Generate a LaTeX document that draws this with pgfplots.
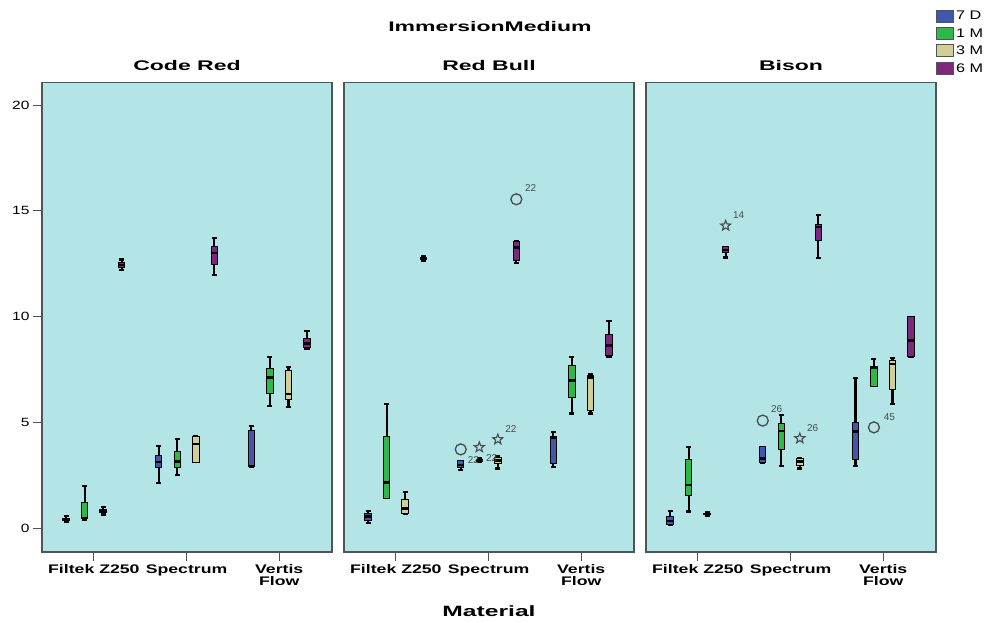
\documentclass[border=0pt]{standalone}
\usepackage{fontspec}
\setmainfont{Liberation Sans}
\newfontfamily\titlefont[FakeStretch=1.65]{Liberation Sans}
\newfontfamily\xlabfont[FakeStretch=1.42]{Liberation Sans}
\newfontfamily\tickfont[FakeStretch=1.3]{Liberation Sans}
\usepackage{pgfplots}
\pgfplotsset{compat=1.18}
\usepgfplotslibrary{statistics}
\definecolor{bgc}{HTML}{B4E5E6}
\definecolor{axc}{HTML}{4D5656}
\definecolor{c7d}{HTML}{3E58AC}
\definecolor{c1m}{HTML}{2EB848}
\definecolor{c3m}{HTML}{D3CE97}
\definecolor{c6m}{HTML}{7C287D}
\definecolor{outc}{HTML}{4A4A4A}
\pgfdeclareplotmark{sstar}{%
 \pgfpathmoveto{\pgfpointpolar{90}{\pgfplotmarksize}}%
 \pgfpathlineto{\pgfpointpolar{126}{0.42*\pgfplotmarksize}}%
 \pgfpathlineto{\pgfpointpolar{162}{\pgfplotmarksize}}%
 \pgfpathlineto{\pgfpointpolar{198}{0.42*\pgfplotmarksize}}%
 \pgfpathlineto{\pgfpointpolar{234}{\pgfplotmarksize}}%
 \pgfpathlineto{\pgfpointpolar{270}{0.42*\pgfplotmarksize}}%
 \pgfpathlineto{\pgfpointpolar{306}{\pgfplotmarksize}}%
 \pgfpathlineto{\pgfpointpolar{342}{0.42*\pgfplotmarksize}}%
 \pgfpathlineto{\pgfpointpolar{18}{\pgfplotmarksize}}%
 \pgfpathlineto{\pgfpointpolar{54}{0.42*\pgfplotmarksize}}%
 \pgfpathclose\pgfusepathqstroke}
\newcommand{\bx}[7]{\addplot[fill=#2, draw=black,
  boxplot prepared={draw position=#1, lower whisker=#3, lower quartile=#4,
  median=#5, upper quartile=#6, upper whisker=#7}] coordinates {};}
\pgfplotsset{panel/.style={
  scale only axis, width=290bp, height=469.3bp,
  xmin=0.44, xmax=3.57, ymin=-1.12, ymax=21.06,
  axis background/.style={fill=bgc},
  axis line style={draw=axc, line width=1.5bp},
  xtick={1,2,3}, xticklabels={Filtek Z250,Spectrum,{Vertis\\Flow}},
  xticklabel style={font=\xlabfont\bfseries\fontsize{12.5}{12}\selectfont, align=center},
  yticklabel style={font=\tickfont\fontsize{12}{12}\selectfont},
  /pgf/number format/assume math mode=true,
  tick align=outside, tick pos=left, major tick length=9bp,
  tick style={draw=axc, line width=1bp},
  boxplot/draw direction=y, boxplot/box extend=0.07, boxplot/whisker extend=0.055,
  boxplot/every box/.style={line width=1bp, draw=black},
  boxplot/every whisker/.style={line width=2.2bp, draw=black},
  boxplot/every median/.style={line width=2.5bp, draw=black},
  clip=false,
}}
\begin{document}
\begin{tikzpicture}
\path[use as bounding box] (0,0) rectangle (985bp,623bp);
% ---------- Code Red
\begin{axis}[panel, at={(42bp,71bp)}, ytick={0,5,10,15,20}]
\bx{0.7}{c7d}{0.32}{0.36}{0.42}{0.48}{0.6}
\bx{0.9}{c1m}{0.42}{0.45}{0.48}{1.22}{2.0}
\bx{1.1}{c3m}{0.65}{0.74}{0.82}{0.9}{1.0}
\bx{1.3}{c6m}{12.2}{12.33}{12.45}{12.58}{12.7}
\bx{1.7}{c7d}{2.13}{2.85}{3.13}{3.42}{3.89}
\bx{1.9}{c1m}{2.52}{2.88}{3.16}{3.65}{4.22}
\bx{2.1}{c3m}{3.13}{3.13}{3.98}{4.36}{4.36}
\bx{2.3}{c6m}{11.99}{12.48}{13.0}{13.31}{13.73}
\bx{2.7}{c7d}{2.91}{2.91}{2.95}{4.61}{4.83}
\bx{2.9}{c1m}{5.78}{6.38}{7.13}{7.54}{8.08}
\bx{3.1}{c3m}{5.75}{6.1}{6.35}{7.48}{7.64}
\bx{3.3}{c6m}{8.46}{8.55}{8.74}{8.98}{9.34}
\end{axis}
% ---------- Red Bull
\begin{axis}[panel, at={(344bp,71bp)}, ytick=\empty]
\bx{0.7}{c7d}{0.24}{0.35}{0.55}{0.7}{0.83}
\bx{0.9}{c1m}{1.42}{1.42}{2.16}{4.33}{5.87}
\bx{1.1}{c3m}{0.68}{0.71}{0.94}{1.37}{1.73}
\bx{1.3}{c6m}{12.66}{12.7}{12.76}{12.82}{12.86}
\bx{1.7}{c7d}{2.76}{2.86}{3.0}{3.19}{3.19}
\bx{1.9}{c1m}{3.15}{3.18}{3.22}{3.26}{3.3}
\bx{2.1}{c3m}{2.83}{3.07}{3.2}{3.36}{3.4}
\bx{2.3}{c6m}{12.55}{12.68}{13.26}{13.55}{13.55}
\bx{2.7}{c7d}{2.91}{3.07}{4.3}{4.36}{4.57}
\bx{2.9}{c1m}{5.43}{6.17}{6.98}{7.69}{8.08}
\bx{3.1}{c3m}{5.43}{5.56}{7.13}{7.24}{7.3}
\bx{3.3}{c6m}{8.08}{8.19}{8.63}{9.17}{9.81}
\addplot[only marks, mark=o, mark size=5.5bp, draw=outc, line width=1.3bp] coordinates {(1.7,3.73) (2.3,15.55)};
\addplot[only marks, mark=sstar, mark size=5.3bp, draw=outc, line width=1.1bp] coordinates {(1.9,3.83) (2.1,4.2)};
\node[font=\fontsize{10}{10}\selectfont, text=outc] at (axis cs:1.836,3.23) {22};
\node[font=\fontsize{10}{10}\selectfont, text=outc] at (axis cs:2.034,3.31) {22};
\node[font=\fontsize{10}{10}\selectfont, text=outc] at (axis cs:2.242,4.68) {22};
\node[font=\fontsize{10}{10}\selectfont, text=outc] at (axis cs:2.455,16.07) {22};
\end{axis}
% ---------- Bison
\begin{axis}[panel, at={(646bp,71bp)}, ytick=\empty,
  legend style={at={(axis description cs:1.0,1.157)}, anchor=north west, draw=none, fill=none,
    inner sep=0pt, row sep=3.3bp, font=\tickfont\fontsize{12.5}{12.5}\selectfont, cells={anchor=west}},
  legend image code/.code={\draw[#1, line width=1bp] (0bp,-6bp) rectangle (17bp,6bp);}]
\addlegendimage{fill=c7d, draw=axc}\addlegendentry{7 D}
\addlegendimage{fill=c1m, draw=axc}\addlegendentry{1 M}
\addlegendimage{fill=c3m, draw=axc}\addlegendentry{3 M}
\addlegendimage{fill=c6m, draw=axc}\addlegendentry{6 M}
\bx{0.7}{c7d}{0.16}{0.2}{0.35}{0.55}{0.83}
\bx{0.9}{c1m}{0.79}{1.54}{2.05}{3.23}{3.83}
\bx{1.1}{c3m}{0.6}{0.64}{0.68}{0.72}{0.76}
\bx{1.3}{c6m}{12.8}{13.02}{13.15}{13.31}{13.31}
\bx{1.7}{c7d}{3.1}{3.1}{3.31}{3.86}{3.86}
\bx{1.9}{c1m}{2.94}{3.73}{4.61}{4.96}{5.35}
\bx{2.1}{c3m}{2.83}{2.99}{3.15}{3.31}{3.31}
\bx{2.3}{c6m}{12.76}{13.62}{14.25}{14.38}{14.81}
\bx{2.7}{c7d}{2.94}{3.26}{4.57}{4.99}{7.09}
\bx{2.9}{c1m}{6.72}{6.72}{7.6}{7.67}{8.0}
\bx{3.1}{c3m}{5.87}{6.57}{7.76}{7.95}{8.05}
\bx{3.3}{c6m}{8.11}{8.11}{8.87}{10.0}{10.0}
\addplot[only marks, mark=o, mark size=5.5bp, draw=outc, line width=1.3bp] coordinates {(1.7,5.09) (2.9,4.77)};
\addplot[only marks, mark=sstar, mark size=5.3bp, draw=outc, line width=1.1bp] coordinates {(1.3,14.3) (2.1,4.25)};
\node[font=\fontsize{10}{10}\selectfont, text=outc] at (axis cs:1.44,14.81) {14};
\node[font=\fontsize{10}{10}\selectfont, text=outc] at (axis cs:1.851,5.64) {26};
\node[font=\fontsize{10}{10}\selectfont, text=outc] at (axis cs:2.239,4.73) {26};
\node[font=\fontsize{10}{10}\selectfont, text=outc] at (axis cs:3.066,5.27) {45};
\end{axis}
\node[font=\titlefont\bfseries\fontsize{14}{14}\selectfont] at (490bp,596bp) {ImmersionMedium};
\node[font=\titlefont\bfseries\fontsize{14}{14}\selectfont] at (187bp,557bp) {Code Red};
\node[font=\titlefont\bfseries\fontsize{14}{14}\selectfont] at (489bp,557bp) {Red Bull};
\node[font=\titlefont\bfseries\fontsize{14}{14}\selectfont] at (791bp,557bp) {Bison};
\node[font=\titlefont\bfseries\fontsize{15}{15}\selectfont] at (489bp,12bp) {Material};
\end{tikzpicture}
\end{document}
